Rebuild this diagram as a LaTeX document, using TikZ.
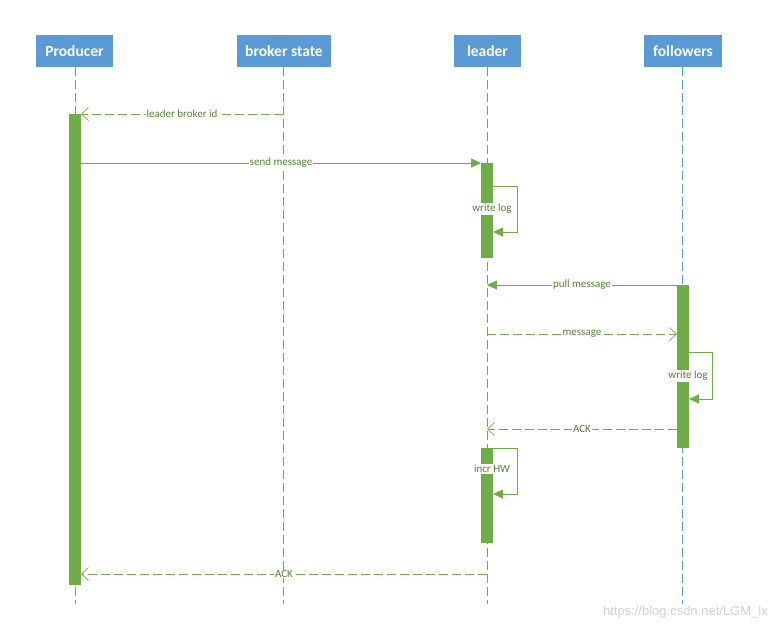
\documentclass[tikz,border=0pt]{standalone}
\usepackage{fontspec}
\setmainfont{Carlito}
\newfontfamily\wmfont{Liberation Sans}
\usetikzlibrary{arrows.meta}
\definecolor{hblue}{HTML}{5B9BD5}
\definecolor{agreen}{HTML}{70AD47}
\definecolor{tgreen}{HTML}{548235}
\tikzset{
  header/.style={fill=hblue, text=white, font=\bfseries\fontsize{15.5}{17}\selectfont, minimum height=32pt, inner sep=0pt},
  lifeline/.style={draw=hblue, line width=0.9pt, dash pattern=on 9pt off 4pt},
  actbar/.style={fill=agreen, draw=none},
  syncmsg/.style={draw=agreen, line width=0.9pt, -{Triangle[length=10pt,width=9pt]}},
  retmsg/.style={draw=agreen, line width=0.9pt, dash pattern=on 9pt off 4pt, -{Straight Barb[length=7pt,width=13pt,line width=0.7pt]}},
  msglabel/.style={fill=white, text=tgreen, font=\fontsize{11}{13}\selectfont, inner sep=0.8pt},
}
\begin{document}
\begin{tikzpicture}[x=1pt,y=-1pt]
\useasboundingbox (0,0) rectangle (778,633);
% headers
\node[header, minimum width=77pt] (prod) at (74.5,51) {Producer};
\node[header, minimum width=94pt] (brok) at (284,51) {broker state};
\node[header, minimum width=67pt] (lead) at (487.5,51) {leader};
\node[header, minimum width=78pt] (foll) at (683,51) {followers};
% lifeline ends
\coordinate (prodE) at (75,604);
\coordinate (brokE) at (283,604);
\coordinate (leadE) at (487,604);
\coordinate (follE) at (682,604);
\draw[lifeline] (75,67) -- (prodE);
\draw[lifeline] (283,67) -- (brokE);
\draw[lifeline] (487,67) -- (leadE);
\draw[lifeline] (682,67) -- (follE);
% activation bars
\path[actbar] (69,114) rectangle (81,585);
\path[actbar] (481,163) rectangle (493,258);
\path[actbar] (677,285) rectangle (689,448);
\path[actbar] (481,448) rectangle (493,543);
% coordinates for messages
\coordinate (m1s) at (283,114); \coordinate (m1e) at (81,114);
\coordinate (m2s) at (81,163); \coordinate (m2e) at (481,163);
\coordinate (m3s) at (677,285); \coordinate (m3e) at (487,285);
\coordinate (m4s) at (487,334); \coordinate (m4e) at (677,334);
\coordinate (m5s) at (677,429); \coordinate (m5e) at (487,429);
\coordinate (m6s) at (487,574); \coordinate (m6e) at (81,574);
% messages
\draw[retmsg] (m1s) -- node[msglabel] {leader broker id} (m1e);
\draw[syncmsg] (m2s) -- node[msglabel] {send message} (m2e);
\draw[syncmsg] (m3s) -- node[msglabel] {pull message} (m3e);
\draw[retmsg] (m4s) -- node[msglabel] {message} (m4e);
\draw[retmsg] (m5s) -- node[msglabel] {ACK} (m5e);
\draw[retmsg] (m6s) -- node[msglabel, pos=0.5] {ACK} (m6e);
% self messages
\coordinate (s1a) at (493,186); \coordinate (s1b) at (493,232);
\draw[syncmsg] (s1a) -- (517,186) -- (517,232) -- (s1b);
\node[msglabel] (wl1) at (492,209) {write log};
\coordinate (s2a) at (689,352); \coordinate (s2b) at (689,399);
\draw[syncmsg] (s2a) -- (712,352) -- (712,399) -- (s2b);
\node[msglabel] (wl2) at (688,376) {write log};
\coordinate (s3a) at (493,448); \coordinate (s3b) at (493,494);
\draw[syncmsg] (s3a) -- (517,448) -- (517,494) -- (s3b);
\node[msglabel] (hw) at (492,469) {incr HW};
% watermark
\node[text=black!18, font=\wmfont\fontsize{13}{15}\selectfont, anchor=east, inner sep=0pt] (wm) at (768,612) {https://blog.csdn.net/LGM\_lx};
\end{tikzpicture}
\end{document}
